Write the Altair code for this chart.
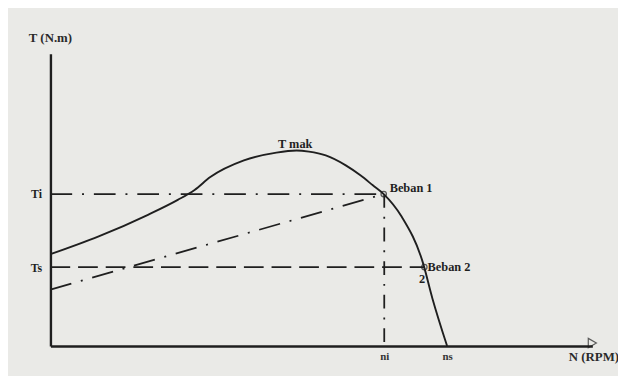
import altair as alt
import pandas as pd

# Torque-speed curve (N in % of axis, T in % of axis)
curve_n = [0, 8.9, 18.0, 23.5, 26.6, 29.5, 35.7, 41.7, 45.4, 47.7, 50.8, 54.5, 57.2, 59.5, 61.5, 64.8, 68.7, 70.5, 73.2]
curve_t = [31.4, 37.5, 44.9, 50.0, 53.4, 57.8, 63.5, 66.2, 66.9, 66.5, 65.2, 61.8, 58.4, 55.0, 52.0, 44.3, 28.7, 16.2, 0]

Ti = 52.0
Ts = 27.0
ni = 61.6
ns = 73.2
load1_n = [0, 61.5]
load1_t = [19.3, 52.0]
beban_n = [61.5, 69.0]
beban_t = [52.0, 27.0]

INK = "#1f1f1f"
FONT = "Liberation Serif"

xs = alt.Scale(domain=[0, 100], nice=False, zero=False)
ys = alt.Scale(domain=[0, 100], nice=False, zero=False)

curve_df = pd.DataFrame({"N": curve_n, "T": curve_t, "o": range(len(curve_n))})

base_x = alt.X("N:Q", scale=xs, axis=alt.Axis(values=[ni, ns], labelExpr="datum.value < 70 ? 'ni' : 'ns'",
                                               title=None, grid=False, ticks=False, domainColor=INK, domainWidth=2.4,
                                               labelFont=FONT, labelFontSize=11, labelFontWeight="bold",
                                               labelColor="#333333", labelPadding=5))
base_y = alt.Y("T:Q", scale=ys, axis=alt.Axis(values=[Ts, Ti], labelExpr="datum.value < 40 ? 'Ts' : 'Ti'",
                                               title=None, grid=False, ticks=False, domainColor=INK, domainWidth=2.4,
                                               labelFont=FONT, labelFontSize=12, labelFontWeight="bold",
                                               labelColor=INK, labelPadding=9))

curve = alt.Chart(curve_df).mark_line(interpolate="monotone", color=INK, strokeWidth=1.9).encode(
    x=base_x, y=base_y, order="o:Q")

def seg(n, t, dash, w=1.8):
    d = pd.DataFrame({"N": n, "T": t, "o": range(len(n))})
    return alt.Chart(d).mark_line(color=INK, strokeWidth=w, strokeDash=dash).encode(
        x=alt.X("N:Q", scale=xs), y=alt.Y("T:Q", scale=ys), order="o:Q")

ti_line = seg([0, beban_n[0]], [Ti, Ti], [22, 10, 2, 10])
ts_line = seg([0, beban_n[1]], [Ts, Ts], [20, 8])
load1 = seg(load1_n, load1_t, [22, 10, 2, 10])
ni_line = seg([ni, ni], [Ti, 0], [14, 9, 2, 9])

pts = alt.Chart(pd.DataFrame({"N": beban_n, "T": beban_t})).mark_point(
    shape="circle", size=30, filled=False, color=INK, strokeWidth=1.3).encode(
    x=alt.X("N:Q", scale=xs), y=alt.Y("T:Q", scale=ys))

arrow = alt.Chart(pd.DataFrame({"N": [100], "T": [1.0]})).mark_point(
    shape="triangle-right", size=90, filled=False, color=INK, strokeWidth=1.2).encode(
    x=alt.X("N:Q", scale=xs), y=alt.Y("T:Q", scale=ys))

labels_df = pd.DataFrame({
    "N": [42.0, 62.6, 69.6, 68.0],
    "T": [69.0, 54.0, 27.0, 23.0],
    "txt": ["T mak", "Beban 1", "Beban 2", "2"],
})
labels = alt.Chart(labels_df).mark_text(font=FONT, fontSize=12.5, fontWeight=600, color=INK,
                                        align="left", baseline="middle").encode(
    x=alt.X("N:Q", scale=xs), y=alt.Y("T:Q", scale=ys), text="txt:N")

title_df = pd.DataFrame({"N": [0.0, 100.3], "T": [105.5, -3.8], "txt": ["T (N.m)", "N (RPM)"]})
titles = alt.Chart(title_df).mark_text(font=FONT, fontSize=13, fontWeight="bold", color="#2a2a2a",
                                       align="center", baseline="middle").encode(
    x=alt.X("N:Q", scale=xs), y=alt.Y("T:Q", scale=ys), text="txt:N")

chart = alt.layer(curve, ti_line, ts_line, load1, ni_line, pts, arrow, labels, titles).properties(
    width=549, height=296,
    autosize=alt.AutoSizeParams(type="none"),
    padding={"left": 43, "top": 44, "right": 26, "bottom": 28},
    background="#eaeae7",
).configure_view(stroke=None)

chart.save("out.html", embed_options={"renderer": "svg", "actions": False})
